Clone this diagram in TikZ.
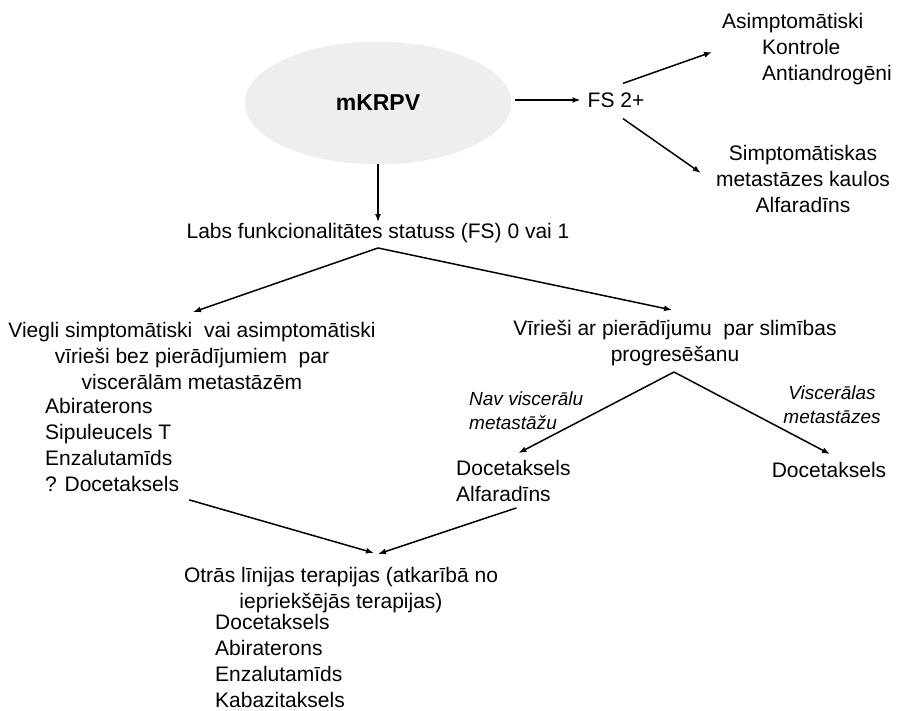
\documentclass[tikz,border=0pt]{standalone}
\usepackage{fontspec}
\setmainfont{Liberation Sans}
\usetikzlibrary{arrows.meta,shapes,positioning}
\definecolor{ellgray}{RGB}{238,238,238}

\begin{document}
\begin{tikzpicture}[x=1pt,y=-1pt,
  txt/.style={inner sep=0pt,font=\fontsize{21}{26}\selectfont},
  lbl/.style={inner sep=0pt,font=\fontsize{19}{24}\selectfont\itshape},
  arrow/.style={-{Latex[length=8pt,width=6pt]},line width=1.5pt}]
\useasboundingbox (0,0) rectangle (897,711);
\node[ellipse,fill=ellgray,draw=gray!15,minimum width=266pt,minimum height=122pt,
      font=\fontsize{23}{26}\selectfont\bfseries] (mk) at (378,103) {mKRPV};
\node[txt]                          (fs)     at (616,100) {FS 2+};
\node[txt,align=left,anchor=west]   (asim)   at (722,49)  {Asimptomātiski\\\hspace*{40pt}Kontrole\\\hspace*{40pt}Antiandrogēni};
\node[txt,align=center]             (simp)   at (803,179) {Simptomātiskas\\metastāzes kaulos\\Alfaradīns};
\node[txt]                          (labs)   at (378,233) {Labs funkcionalitātes statuss (FS) 0 vai 1};
\node[txt,align=center]             (viegli) at (192,356) {Viegli simptomātiski\ \ vai asimptomātiski\\vīrieši bez pierādījumiem\ \ par\\viscerālām metastāzēm};
\node[txt,align=left,anchor=west]   (vlist)  at (45,445)  {Abiraterons\\Sipuleucels T\\Enzalutamīds\\? Docetaksels};
\node[txt,align=center]             (prog)   at (675,343) {Vīrieši ar pierādījumu\ \ par slimības\\progresēšanu};
\node[lbl,align=left,anchor=west]   (nav)    at (469,411) {Nav viscerālu\\metastāžu};
\node[lbl,align=center]             (visc)   at (832,405) {Viscerālas\\metastāzes};
\node[txt,align=left,anchor=west]   (doc1)   at (456,481) {Docetaksels\\Alfaradīns};
\node[txt]                          (doc2)   at (829,470) {Docetaksels};
\node[txt,align=center]             (otras)  at (341,590) {Otrās līnijas terapijas (atkarībā no\\iepriekšējās terapijas)};
\node[txt,align=left,anchor=west,text depth=0pt] (olist) at (215,661) {Docetaksels\\Abiraterons\\Enzalutamīds\\Kabazitaksels};
\draw[arrow] (mk.south)--([yshift=1pt]labs.north);
\draw[arrow] ([xshift=4pt,yshift=3pt]mk.east)--([xshift=-7pt]fs.west);
\draw[arrow] ([xshift=7pt,yshift=9pt]fs.north)--([xshift=-10pt,yshift=-3pt]asim.west);
\draw[arrow] ([xshift=7pt,yshift=-11pt]fs.south)--([xshift=-15pt,yshift=6pt]simp.west);
\draw[arrow] ([yshift=-5pt]labs.south)--([xshift=1pt,yshift=10pt]viegli.north);
\draw[arrow] ([yshift=-5pt]labs.south)--([xshift=-3pt,yshift=10pt]prog.north);
\draw[arrow] ([xshift=-1pt,yshift=-6pt]prog.south)--([xshift=5pt,yshift=7pt]doc1.north);
\draw[arrow] ([xshift=-1pt,yshift=-6pt]prog.south)--([xshift=1pt,yshift=8pt]doc2.north);
\draw[arrow] ([xshift=10pt,yshift=-8pt]vlist.south east)--([xshift=33pt,yshift=14pt]otras.north);
\draw[arrow] ([xshift=3pt,yshift=-6pt]doc1.south)--([xshift=37pt,yshift=13pt]otras.north);
\end{tikzpicture}
\end{document}
